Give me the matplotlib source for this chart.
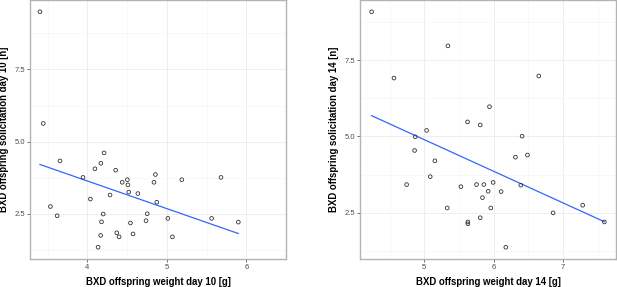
import numpy as np
import matplotlib
matplotlib.use("Agg")
import matplotlib.pyplot as plt

plt.rcParams['font.family'] = ['Liberation Sans', 'DejaVu Sans']

# Day 10 data
w10 = [3.404, 3.446, 3.657, 3.536, 3.621, 3.946, 4.039, 4.096, 4.171, 4.211,
       4.357, 4.286, 4.200, 4.179, 4.168, 4.136, 4.371, 4.400, 4.439, 4.504,
       4.511, 4.521, 4.636, 4.543, 4.575, 4.739, 4.754, 4.839, 4.857, 4.875,
       5.014, 5.071, 5.189, 5.564, 5.682, 5.900]
s10 = [9.50, 5.63, 4.33, 2.75, 2.43, 3.76, 3.01, 4.06, 4.25, 4.61,
       4.01, 3.15, 2.49, 2.22, 1.75, 1.34, 1.84, 1.70, 3.59, 3.68,
       3.50, 3.25, 3.20, 2.18, 1.80, 2.26, 2.50, 3.59, 3.86, 2.90,
       2.34, 1.70, 3.68, 2.34, 3.76, 2.21]
# Day 14 data
w14 = [4.242, 4.564, 5.341, 6.650, 5.940, 5.624, 5.806, 5.034, 4.870, 6.410,
       4.861, 6.487, 6.314, 5.153, 5.086, 4.746, 5.528, 5.753, 5.859, 5.993,
       5.921, 6.108, 6.391, 5.839, 5.959, 5.331, 5.806, 5.628, 5.628, 6.175,
       6.856, 7.283, 7.595]
s14 = [9.10, 6.92, 7.98, 6.99, 5.98, 5.48, 5.38, 5.20, 4.99, 5.01,
       4.54, 4.39, 4.32, 4.20, 3.68, 3.42, 3.35, 3.42, 3.42, 3.49,
       3.20, 3.19, 3.40, 2.99, 2.65, 2.65, 2.33, 2.19, 2.13, 1.36,
       2.49, 2.74, 2.19]

xticks10 = [4, 5, 6]
xticks14 = [5, 6, 7]
yticks = [2.5, 5.0, 7.5]
xlabel10 = "BXD offspring weight day 10 [g]"
ylabel10 = "BXD offspring solicitation day 10 [n]"
xlabel14 = "BXD offspring weight day 14 [g]"
ylabel14 = "BXD offspring solicitation day 14 [n]"

W, H = 617, 287
fig = plt.figure(figsize=(W / 100, H / 100), dpi=100)


def panel(rect, x, y, xt, xl, yl):
    ax = fig.add_axes(rect)
    x = np.asarray(x); y = np.asarray(y)
    xr = x.max() - x.min(); yr = y.max() - y.min()
    ax.set_xlim(x.min() - 0.05 * xr, x.max() + 0.05 * xr)
    ax.set_ylim(y.min() - 0.05 * yr, y.max() + 0.05 * yr)
    ax.set_xticks(xt)
    ax.set_yticks(yticks)
    ax.set_yticklabels([f"{v:.1f}" for v in yticks])
    ax.set_xticks([v + 0.5 for v in [xt[0] - 1] + xt], minor=True)
    ax.set_yticks([1.25, 3.75, 6.25, 8.75], minor=True)
    ax.grid(True, which='major', color='#ebebeb', lw=0.6)
    ax.grid(True, which='minor', color='#f5f5f5', lw=0.5)
    ax.set_axisbelow(True)
    for sp in ax.spines.values():
        sp.set_color('#b3b3b3')
        sp.set_linewidth(1.0)
    ax.tick_params(which='major', length=2.2, width=0.6, color='#555555',
                   labelsize=5.5, labelcolor='#4d4d4d', pad=1.5)
    ax.tick_params(which='minor', length=0)
    ax.scatter(x, y, s=7, facecolors='none', edgecolors='#333333', linewidths=0.6, zorder=3)
    k, b = np.polyfit(x, y, 1)
    xs = np.array([x.min(), x.max()])
    ax.plot(xs, k * xs + b, color='#3366FF', lw=0.9, zorder=2)
    ax.set_xlabel(xl, fontsize=6.9, fontweight='bold', labelpad=4.5)
    ax.set_ylabel(yl, fontsize=6.9, fontweight='bold', labelpad=4)
    return ax


panel([30 / W, 28 / H, 256 / W, 259 / H], w10, s10, xticks10, xlabel10, ylabel10)
panel([360 / W, 28 / H, 256 / W, 259 / H], w14, s14, xticks14, xlabel14, ylabel14)

fig.savefig("out.png", dpi=100)
